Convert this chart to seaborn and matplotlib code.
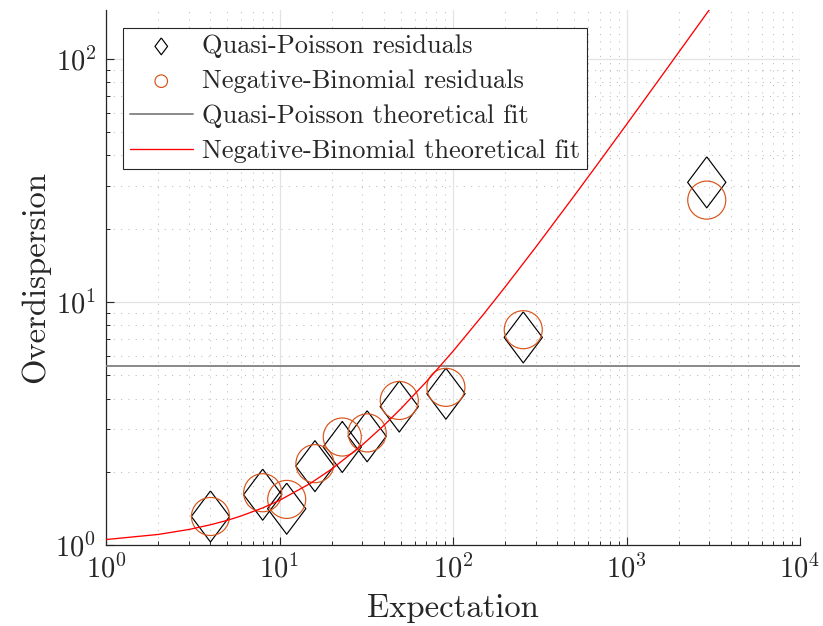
import numpy as np
import pandas as pd
import seaborn as sns
import matplotlib.pyplot as plt
from matplotlib.ticker import LogLocator, NullFormatter

# residuals per expectation bin
expectation = [4, 8, 11, 16, 23, 32, 49, 91, 254, 2900]
qp_resid = [1.31, 1.61, 1.41, 2.11, 2.53, 2.80, 3.71, 4.19, 7.14, 31.0]
nb_resid = [1.31, 1.64, 1.54, 2.16, 2.78, 2.89, 3.93, 4.45, 7.68, 26.2]

# theoretical fits
qp_fit = 5.47
fit_x = [1, 2, 3, 4, 5, 6, 8, 10, 15, 20, 30, 40, 50, 70, 100, 150, 200,
         300, 500, 700, 1000, 1500, 2000, 3000]
nb_fit = [1.053, 1.105, 1.158, 1.211, 1.263, 1.316, 1.421, 1.526, 1.789,
          2.053, 2.579, 3.105, 3.632, 4.684, 6.263, 8.895, 11.53, 16.79,
          27.32, 37.84, 53.63, 79.95, 106.3, 158.9]

labels = ['Quasi-Poisson residuals', 'Negative-Binomial residuals',
          'Quasi-Poisson theoretical fit', 'Negative-Binomial theoretical fit']

sns.set_style("ticks")
plt.rcParams['font.family'] = ['cmr10', 'DejaVu Serif']
plt.rcParams['mathtext.fontset'] = 'cm'
plt.rcParams['axes.formatter.use_mathtext'] = True
plt.rcParams['axes.unicode_minus'] = False

ink = '#262626'
df = pd.DataFrame({'x': expectation, 'qp': qp_resid, 'nb': nb_resid})
fit_df = pd.DataFrame({'x': fit_x, 'y': nb_fit})

fig = plt.figure(figsize=(8.23, 6.26), dpi=100)
ax = fig.add_axes([0.1288, 0.1294, 0.8433, 0.855])
ax.set_xscale('log')
ax.set_yscale('log')

diamond = [(0, 1), (0.75, 0), (0, -1), (-0.75, 0), (0, 1)]
sns.scatterplot(data=df, x='x', y='qp', marker=diamond, s=1350,
                facecolor='none', edgecolor='k', linewidth=0.85, ax=ax, zorder=3)
sns.scatterplot(data=df, x='x', y='nb', marker='o', s=750,
                facecolor='none', edgecolor='#D95319', linewidth=0.85, ax=ax, zorder=3)
hline = ax.axhline(qp_fit, color='#808080', lw=1.3, zorder=4)
sns.lineplot(data=fit_df, x='x', y='y', color='#ff0000', lw=0.95,
             estimator=None, sort=False, ax=ax, zorder=4)
red = ax.lines[-1]

ax.set_xlim(1, 1e4)
ax.set_ylim(1, max(nb_fit))

ax.xaxis.set_major_locator(LogLocator(base=10, numticks=10))
ax.xaxis.set_minor_locator(LogLocator(base=10, subs=np.arange(2, 10), numticks=20))
ax.yaxis.set_major_locator(LogLocator(base=10, numticks=10))
ax.yaxis.set_minor_locator(LogLocator(base=10, subs=np.arange(2, 10), numticks=20))
ax.xaxis.set_minor_formatter(NullFormatter())
ax.yaxis.set_minor_formatter(NullFormatter())

ax.grid(True, which='major', color='#e3e3e3', lw=0.9, ls='-', zorder=0)
ax.grid(True, which='minor', color='#bcbcbc', lw=0.75, ls=(0, (1, 6)), zorder=0)
ax.set_axisbelow(True)

for side in ['top', 'right']:
    ax.spines[side].set_visible(False)
for side in ['left', 'bottom']:
    ax.spines[side].set_color(ink)
    ax.spines[side].set_linewidth(0.9)

ax.tick_params(which='major', direction='in', length=5.5, width=0.8,
               colors=ink, labelsize=20.5, pad=7)
ax.tick_params(which='minor', direction='in', length=3, width=0.7, colors=ink)

ax.set_xlabel('Expectation', fontsize=23.5, color=ink, labelpad=7)
ax.set_ylabel('Overdispersion', fontsize=23.5, color=ink, labelpad=4)

handles = [ax.collections[0], ax.collections[1], hline, red]
leg = ax.legend(handles, labels, loc='upper left', bbox_to_anchor=(0.0245, 0.966),
                borderaxespad=0, fontsize=19, frameon=True, fancybox=False,
                edgecolor=ink, framealpha=1, markerscale=0.33,
                handlelength=2.4, handletextpad=0.35, labelspacing=0.42,
                borderpad=0.25)
leg.get_frame().set_linewidth(0.8)
for t in leg.get_texts():
    t.set_color(ink)

fig.savefig('out.png', dpi=100)
